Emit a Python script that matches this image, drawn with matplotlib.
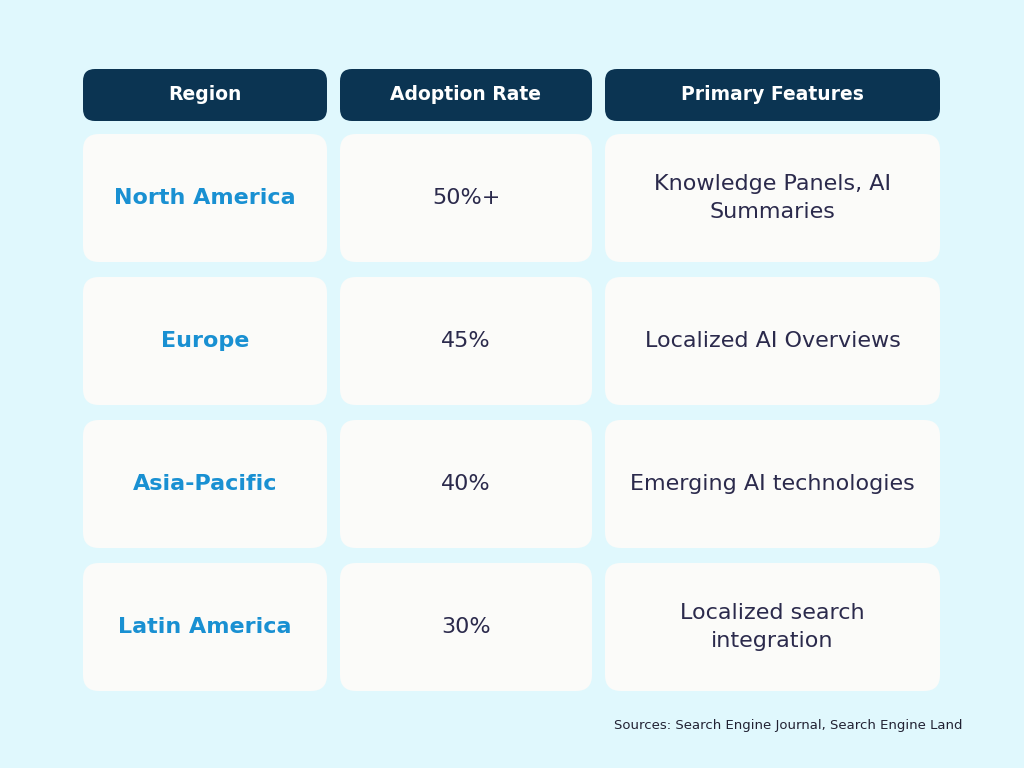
import matplotlib
matplotlib.use("Agg")
import matplotlib.pyplot as plt
from matplotlib.patches import FancyBboxPatch

headers = ["Region", "Adoption Rate", "Primary Features"]
regions = ["North America", "Europe", "Asia-Pacific", "Latin America"]
adoption = ["50%+", "45%", "40%", "30%"]
features = ["Knowledge Panels, AI\nSummaries", "Localized AI Overviews",
            "Emerging AI technologies", "Localized search\nintegration"]
source = "Sources: Search Engine Journal, Search Engine Land"

BG = "#e0f8fd"; NAVY = "#0b3452"; CELL = "#fbfbf9"; BLUE = "#1990d2"; TXT = "#2b2a4c"
col_x = [(83, 327), (340, 592), (605, 940)]
head_y = (69, 121)
row_top, row_h, row_gap = 134, 128, 15

fig = plt.figure(figsize=(10.24, 7.68), dpi=100, facecolor=BG)
ax = fig.add_axes([0, 0, 1, 1])
ax.set_xlim(0, 1024); ax.set_ylim(768, 0); ax.axis("off")

def box(x0, x1, y0, y1, color, r):
    ax.add_patch(FancyBboxPatch((x0 + r, y0 + r), x1 - x0 - 2 * r, y1 - y0 - 2 * r,
                                boxstyle=f"round,pad={r}", fc=color, ec="none"))

for (x0, x1), h in zip(col_x, headers):
    box(x0, x1, head_y[0], head_y[1], NAVY, 12)
    ax.text((x0 + x1) / 2, sum(head_y) / 2, h, color="white", fontsize=13.5,
            fontweight="bold", ha="center", va="center", family="DejaVu Sans")

for i in range(len(regions)):
    y0 = row_top + i * (row_h + row_gap); y1 = y0 + row_h; yc = (y0 + y1) / 2
    for (x0, x1) in col_x:
        box(x0, x1, y0, y1, CELL, 16)
    ax.text(sum(col_x[0]) / 2, yc, regions[i], color=BLUE, fontsize=16, fontweight="bold",
            ha="center", va="center", family="DejaVu Sans")
    ax.text(sum(col_x[1]) / 2, yc, adoption[i], color=TXT, fontsize=16,
            ha="center", va="center", family="DejaVu Sans")
    ax.text(sum(col_x[2]) / 2, yc, features[i], color=TXT, fontsize=16,
            ha="center", va="center", family="DejaVu Sans", linespacing=1.5)

ax.text(963, 726, source, color="#222233", fontsize=9.5, ha="right", va="center")
fig.savefig("out.png", dpi=100, facecolor=BG)
